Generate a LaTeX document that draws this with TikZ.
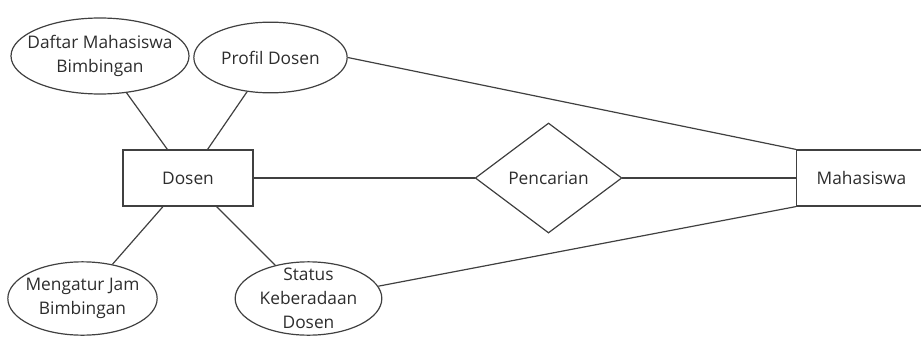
\documentclass[tikz,border=0pt]{standalone}
\usepackage{fontspec}
\setmainfont{Open Sans}
\usepackage{tikz}
\usetikzlibrary{
	shapes.geometric,
	positioning
}
\definecolor{LineGray}{RGB}{64,64,64}
\definecolor{TextGray}{RGB}{45,45,45}

\tikzset{
	entitas/.style={draw=LineGray, line width=0.9pt, rectangle, inner sep=0pt, minimum width=97.5pt, minimum height=42pt},
	atribut/.style={draw=LineGray, line width=0.9pt, ellipse, inner sep=0pt},
	isi/.style={align=center, inner sep=0pt},
	relasi/.style={draw=LineGray, line width=0.9pt, diamond, inner sep=0pt, minimum width=110pt, minimum height=82.5pt},
	garis/.style={draw=LineGray, line width=0.9pt}
}

\begin{document}
\begin{tikzpicture}[x=0.75pt, y=-0.75pt, font=\fontsize{13}{18}\selectfont, text=TextGray]
		\useasboundingbox (0,0) rectangle (921,336);
		\clip (0,0) rectangle (921,336);
		
		% entitas
		\node[entitas] (dosen) at (188,178) {Dosen};
		\node[entitas] (mhs) at (861.5,178) {Mahasiswa};
		
		% relasi
		\node[relasi] (cari) at (548.5,178) {Pencarian};
		
		% atribut dosen
		\node[atribut, minimum width=133.5pt, minimum height=57pt,
			label={[isi]center:Daftar Mahasiswa\\Bimbingan}] (daftar) at (100,56) {};
		\node[atribut, minimum width=115pt, minimum height=53pt,
			label={[isi]center:Profil Dosen}] (profil) at (270.5,57.5) {};
		\node[atribut, minimum width=112pt, minimum height=55pt,
			label={[isi]center:Mengatur Jam\\Bimbingan}] (jam) at (82.5,298.5) {};
		\node[atribut, minimum width=110pt, minimum height=55pt,
			label={[isi]center:Status\\Keberadaan\\Dosen}] (status) at (308.5,298.5) {};
		
		% garis penghubung
		\draw[garis] (daftar) -- (dosen);
		\draw[garis] (profil) -- (dosen);
		\draw[garis] (jam) -- (dosen);
		\draw[garis] (status) -- (dosen);
		\draw[garis] (dosen) -- (cari) -- (mhs);
		\draw[garis] (profil.east) -- (mhs.north west);
		\draw[garis] (status.10) -- (mhs.south west);
	\end{tikzpicture}
\end{document}
